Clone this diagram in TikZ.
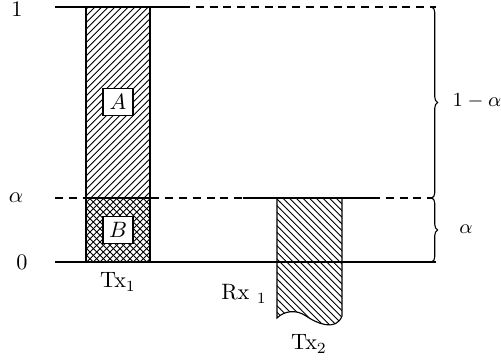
\documentclass[tikz,border=0pt]{standalone}
\usetikzlibrary{patterns,decorations.pathreplacing}
\begin{document}
\begin{tikzpicture}[x=0.45pt,y=-0.45pt,
  barline/.style={draw,line width=0.5pt},
  level/.style={line width=0.9pt},
  leveldash/.style={line width=0.9pt,dash pattern=on 3.6pt off 2.6pt},
  bracestyle/.style={decorate,decoration={brace,amplitude=2.5pt},line width=0.5pt},
  lbl/.style={inner sep=0pt},
  sidelbl/.style={inner sep=0pt,font=\small},
  boxlbl/.style={draw,fill=white,line width=0.5pt,inner sep=0pt,minimum width=30*0.45pt,minimum height=27*0.45pt}]
\useasboundingbox (0,0) rectangle (501,362);
% Tx1 bar
\fill[pattern=north east lines] (86,7) rectangle (150,198);
\fill[pattern=north east lines] (86,198) rectangle (150,262);
\fill[pattern=north west lines] (86,198) rectangle (150,262);
\draw[barline] (86,7) rectangle (150,262);
\draw[barline] (86,198) -- (150,198);
% Tx2 bar
\draw[barline,pattern=north west lines] (277,198) -- (277,318)
  .. controls (284,311) and (296,309) .. (306,316)
  .. controls (316,323) and (336,332) .. (342,316) -- (342,198) -- cycle;
% levels
\draw[level] (55,7) -- (182,7);
\draw[leveldash] (182,7) -- (436,7);
\draw[leveldash] (55,198) -- (243,198);
\draw[level] (243,198) -- (372,198);
\draw[leveldash] (372,198) -- (432,198);
\draw[level] (55,262) -- (436,262);
% braces
\coordinate (bt) at (432,7);
\coordinate (bm) at (432,198);
\coordinate (bb) at (432,262);
\draw[bracestyle] (bt) -- (bm);
\draw[bracestyle] (bm) -- (bb);
% labels
\node[lbl] (one) at (17,9) {1};
\node[lbl] (al) at (16,198) {$\alpha$};
\node[lbl] (zero) at (22,262) {0};
\node[boxlbl] (A) at (118,102) {$A$};
\node[boxlbl] (B) at (118,230) {$B$};
\node[lbl] (tx1) at (118,282) {Tx$_1$};
\node[lbl] (rx1) at (244,294) {Rx $_1$};
\node[lbl] (tx2) at (309,344) {Tx$_2$};
\node[sidelbl] (oma) at (477,101) {$1-\alpha$};
\node[sidelbl] (ar) at (466,229) {$\alpha$};
\end{tikzpicture}
\end{document}
